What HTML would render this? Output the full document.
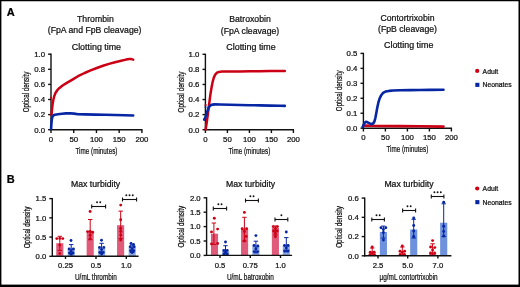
<!DOCTYPE html><html><head><meta charset="utf-8"><style>html,body{margin:0;padding:0;background:#fff;}svg{display:block;will-change:transform;}text{font-family:"Liberation Sans", sans-serif;stroke:#000;stroke-width:0.22px;paint-order:stroke;}</style></head><body>
<svg width="520" height="287" viewBox="0 0 520 287">
<rect x="0" y="0" width="520" height="287" fill="#fff"/>
<text x="6.7" y="15.6" font-size="11" text-anchor="start" font-weight="bold" fill="#000" >A</text>
<text x="6.7" y="182.5" font-size="11" text-anchor="start" font-weight="bold" fill="#000" >B</text>
<text x="95.4" y="22.4" font-size="8.7" text-anchor="middle" font-weight="normal" fill="#111" >Thrombin</text>
<text x="94.6" y="33.4" font-size="8.7" text-anchor="middle" font-weight="normal" fill="#111" >(FpA and FpB cleavage)</text>
<text x="96.4" y="49.6" font-size="8.9" text-anchor="middle" font-weight="normal" fill="#111" >Clotting time</text>
<line x1="51.0" y1="53.6" x2="51.0" y2="130.29999999999998" stroke="#111" stroke-width="1.4" />
<line x1="48.1" y1="129.7" x2="51.0" y2="129.7" stroke="#111" stroke-width="1.4" />
<text x="45.0" y="132.50799999999998" font-size="7.8" text-anchor="end" font-weight="normal" fill="#111" >0.0</text>
<line x1="48.1" y1="114.6" x2="51.0" y2="114.6" stroke="#111" stroke-width="1.4" />
<text x="45.0" y="117.40799999999999" font-size="7.8" text-anchor="end" font-weight="normal" fill="#111" >0.2</text>
<line x1="48.1" y1="99.5" x2="51.0" y2="99.5" stroke="#111" stroke-width="1.4" />
<text x="45.0" y="102.30799999999999" font-size="7.8" text-anchor="end" font-weight="normal" fill="#111" >0.4</text>
<line x1="48.1" y1="84.4" x2="51.0" y2="84.4" stroke="#111" stroke-width="1.4" />
<text x="45.0" y="87.208" font-size="7.8" text-anchor="end" font-weight="normal" fill="#111" >0.6</text>
<line x1="48.1" y1="69.3" x2="51.0" y2="69.3" stroke="#111" stroke-width="1.4" />
<text x="45.0" y="72.108" font-size="7.8" text-anchor="end" font-weight="normal" fill="#111" >0.8</text>
<line x1="48.1" y1="54.2" x2="51.0" y2="54.2" stroke="#111" stroke-width="1.4" />
<text x="45.0" y="57.008" font-size="7.8" text-anchor="end" font-weight="normal" fill="#111" >1.0</text>
<line x1="50.4" y1="129.7" x2="142.5" y2="129.7" stroke="#111" stroke-width="1.4" />
<line x1="51.0" y1="129.7" x2="51.0" y2="133.0" stroke="#111" stroke-width="1.4" />
<text x="51.0" y="141.89999999999998" font-size="7.8" text-anchor="middle" font-weight="normal" fill="#111" >0</text>
<line x1="73.725" y1="129.7" x2="73.725" y2="133.0" stroke="#111" stroke-width="1.4" />
<text x="73.725" y="141.89999999999998" font-size="7.8" text-anchor="middle" font-weight="normal" fill="#111" >50</text>
<line x1="96.45" y1="129.7" x2="96.45" y2="133.0" stroke="#111" stroke-width="1.4" />
<text x="96.45" y="141.89999999999998" font-size="7.8" text-anchor="middle" font-weight="normal" fill="#111" >100</text>
<line x1="119.17500000000001" y1="129.7" x2="119.17500000000001" y2="133.0" stroke="#111" stroke-width="1.4" />
<text x="119.17500000000001" y="141.89999999999998" font-size="7.8" text-anchor="middle" font-weight="normal" fill="#111" >150</text>
<line x1="141.9" y1="129.7" x2="141.9" y2="133.0" stroke="#111" stroke-width="1.4" />
<text x="141.9" y="141.89999999999998" font-size="7.8" text-anchor="middle" font-weight="normal" fill="#111" >200</text>
<text transform="translate(96.45,153.89999999999998) scale(0.705,1)" font-size="9.0" text-anchor="middle" fill="#111">Time (minutes)</text>
<text transform="translate(29.2,91.94999999999999) rotate(-90) scale(0.75,1)" font-size="8.3" text-anchor="middle" fill="#111">Optical density</text>
<text x="250.0" y="22.4" font-size="8.7" text-anchor="middle" font-weight="normal" fill="#111" >Batroxobin</text>
<text x="250.0" y="33.6" font-size="8.7" text-anchor="middle" font-weight="normal" fill="#111" >(FpA cleavage)</text>
<text x="251.0" y="49.6" font-size="8.9" text-anchor="middle" font-weight="normal" fill="#111" >Clotting time</text>
<line x1="205.4" y1="53.699999999999996" x2="205.4" y2="130.29999999999998" stroke="#111" stroke-width="1.4" />
<line x1="202.5" y1="129.7" x2="205.4" y2="129.7" stroke="#111" stroke-width="1.4" />
<text x="199.4" y="132.50799999999998" font-size="7.8" text-anchor="end" font-weight="normal" fill="#111" >0.0</text>
<line x1="202.5" y1="114.61999999999999" x2="205.4" y2="114.61999999999999" stroke="#111" stroke-width="1.4" />
<text x="199.4" y="117.428" font-size="7.8" text-anchor="end" font-weight="normal" fill="#111" >0.2</text>
<line x1="202.5" y1="99.53999999999999" x2="205.4" y2="99.53999999999999" stroke="#111" stroke-width="1.4" />
<text x="199.4" y="102.34799999999998" font-size="7.8" text-anchor="end" font-weight="normal" fill="#111" >0.4</text>
<line x1="202.5" y1="84.46" x2="205.4" y2="84.46" stroke="#111" stroke-width="1.4" />
<text x="199.4" y="87.268" font-size="7.8" text-anchor="end" font-weight="normal" fill="#111" >0.6</text>
<line x1="202.5" y1="69.38" x2="205.4" y2="69.38" stroke="#111" stroke-width="1.4" />
<text x="199.4" y="72.18799999999999" font-size="7.8" text-anchor="end" font-weight="normal" fill="#111" >0.8</text>
<line x1="202.5" y1="54.3" x2="205.4" y2="54.3" stroke="#111" stroke-width="1.4" />
<text x="199.4" y="57.108" font-size="7.8" text-anchor="end" font-weight="normal" fill="#111" >1.0</text>
<line x1="204.8" y1="129.7" x2="294.0" y2="129.7" stroke="#111" stroke-width="1.4" />
<line x1="205.4" y1="129.7" x2="205.4" y2="133.0" stroke="#111" stroke-width="1.4" />
<text x="205.4" y="141.89999999999998" font-size="7.8" text-anchor="middle" font-weight="normal" fill="#111" >0</text>
<line x1="227.4" y1="129.7" x2="227.4" y2="133.0" stroke="#111" stroke-width="1.4" />
<text x="227.4" y="141.89999999999998" font-size="7.8" text-anchor="middle" font-weight="normal" fill="#111" >50</text>
<line x1="249.39999999999998" y1="129.7" x2="249.39999999999998" y2="133.0" stroke="#111" stroke-width="1.4" />
<text x="249.39999999999998" y="141.89999999999998" font-size="7.8" text-anchor="middle" font-weight="normal" fill="#111" >100</text>
<line x1="271.4" y1="129.7" x2="271.4" y2="133.0" stroke="#111" stroke-width="1.4" />
<text x="271.4" y="141.89999999999998" font-size="7.8" text-anchor="middle" font-weight="normal" fill="#111" >150</text>
<line x1="293.4" y1="129.7" x2="293.4" y2="133.0" stroke="#111" stroke-width="1.4" />
<text x="293.4" y="141.89999999999998" font-size="7.8" text-anchor="middle" font-weight="normal" fill="#111" >200</text>
<text transform="translate(249.39999999999998,153.89999999999998) scale(0.705,1)" font-size="9.0" text-anchor="middle" fill="#111">Time (minutes)</text>
<text transform="translate(183.6,92.0) rotate(-90) scale(0.75,1)" font-size="8.3" text-anchor="middle" fill="#111">Optical density</text>
<text x="407.5" y="21.0" font-size="8.7" text-anchor="middle" font-weight="normal" fill="#111" >Contortrixobin</text>
<text x="407.5" y="31.8" font-size="8.7" text-anchor="middle" font-weight="normal" fill="#111" >(FpB cleavage)</text>
<text x="408.7" y="48.0" font-size="8.9" text-anchor="middle" font-weight="normal" fill="#111" >Clotting time</text>
<line x1="363.4" y1="52.8" x2="363.4" y2="128.79999999999998" stroke="#111" stroke-width="1.4" />
<line x1="360.5" y1="128.2" x2="363.4" y2="128.2" stroke="#111" stroke-width="1.4" />
<text x="357.4" y="131.00799999999998" font-size="7.8" text-anchor="end" font-weight="normal" fill="#111" >0.0</text>
<line x1="360.5" y1="113.24" x2="363.4" y2="113.24" stroke="#111" stroke-width="1.4" />
<text x="357.4" y="116.048" font-size="7.8" text-anchor="end" font-weight="normal" fill="#111" >0.1</text>
<line x1="360.5" y1="98.28" x2="363.4" y2="98.28" stroke="#111" stroke-width="1.4" />
<text x="357.4" y="101.088" font-size="7.8" text-anchor="end" font-weight="normal" fill="#111" >0.2</text>
<line x1="360.5" y1="83.32" x2="363.4" y2="83.32" stroke="#111" stroke-width="1.4" />
<text x="357.4" y="86.12799999999999" font-size="7.8" text-anchor="end" font-weight="normal" fill="#111" >0.3</text>
<line x1="360.5" y1="68.36" x2="363.4" y2="68.36" stroke="#111" stroke-width="1.4" />
<text x="357.4" y="71.168" font-size="7.8" text-anchor="end" font-weight="normal" fill="#111" >0.4</text>
<line x1="360.5" y1="53.400000000000006" x2="363.4" y2="53.400000000000006" stroke="#111" stroke-width="1.4" />
<text x="357.4" y="56.208000000000006" font-size="7.8" text-anchor="end" font-weight="normal" fill="#111" >0.5</text>
<line x1="362.79999999999995" y1="128.2" x2="452.0" y2="128.2" stroke="#111" stroke-width="1.4" />
<line x1="363.4" y1="128.2" x2="363.4" y2="131.5" stroke="#111" stroke-width="1.4" />
<text x="363.4" y="140.39999999999998" font-size="7.8" text-anchor="middle" font-weight="normal" fill="#111" >0</text>
<line x1="385.4" y1="128.2" x2="385.4" y2="131.5" stroke="#111" stroke-width="1.4" />
<text x="385.4" y="140.39999999999998" font-size="7.8" text-anchor="middle" font-weight="normal" fill="#111" >50</text>
<line x1="407.4" y1="128.2" x2="407.4" y2="131.5" stroke="#111" stroke-width="1.4" />
<text x="407.4" y="140.39999999999998" font-size="7.8" text-anchor="middle" font-weight="normal" fill="#111" >100</text>
<line x1="429.4" y1="128.2" x2="429.4" y2="131.5" stroke="#111" stroke-width="1.4" />
<text x="429.4" y="140.39999999999998" font-size="7.8" text-anchor="middle" font-weight="normal" fill="#111" >150</text>
<line x1="451.4" y1="128.2" x2="451.4" y2="131.5" stroke="#111" stroke-width="1.4" />
<text x="451.4" y="140.39999999999998" font-size="7.8" text-anchor="middle" font-weight="normal" fill="#111" >200</text>
<text transform="translate(407.4,152.39999999999998) scale(0.705,1)" font-size="9.0" text-anchor="middle" fill="#111">Time (minutes)</text>
<text transform="translate(341.59999999999997,90.8) rotate(-90) scale(0.75,1)" font-size="8.3" text-anchor="middle" fill="#111">Optical density</text>
<polyline points="51.50,115.20 51.90,110.50 52.50,105.00 53.30,100.00 54.30,96.00 55.60,92.80 57.30,90.20 59.50,87.90 62.60,85.50 66.00,83.40 72.40,79.60 78.00,76.20 84.60,73.00 90.00,70.60 96.80,68.00 103.00,65.80 109.00,63.90 115.00,62.20 121.20,60.70 126.00,59.60 129.50,59.00 131.50,59.10 133.20,59.60" fill="none" stroke="#cc0014" stroke-width="2.5" stroke-linejoin="round" stroke-linecap="round"/>
<line x1="50.2" y1="97.6" x2="51.8" y2="97.6" stroke="#cc0014" stroke-width="1.6" />
<polyline points="51.10,128.80 51.40,124.00 51.80,119.50 52.50,116.50 53.50,115.30 55.00,114.80 58.00,114.30 62.00,113.80 66.00,113.40 70.00,113.30 74.00,113.60 78.00,114.20 85.00,114.40 95.00,114.60 105.00,114.80 115.00,115.00 125.00,115.20 133.20,115.50" fill="none" stroke="#0626a4" stroke-width="2.6" stroke-linejoin="round" stroke-linecap="round"/>
<polyline points="205.60,129.60 206.80,122.00 208.00,113.00 209.30,103.00 210.40,94.50 211.50,87.70 212.60,82.00 213.80,77.60 215.20,74.60 217.00,72.70 219.00,71.90 222.00,71.60 230.00,71.50 240.00,71.40 250.00,71.30 260.00,71.20 270.00,71.00 280.00,70.90 284.80,71.00" fill="none" stroke="#cc0014" stroke-width="2.5" stroke-linejoin="round" stroke-linecap="round"/>
<line x1="204.6" y1="105.0" x2="206.6" y2="105.0" stroke="#cc0014" stroke-width="1.6" />
<polyline points="204.20,119.60 205.30,117.60 206.30,115.00 207.20,111.80 208.20,108.60 209.40,106.40 210.80,105.20 212.50,104.60 215.00,104.40 220.00,104.50 230.00,104.80 240.00,105.00 250.00,105.20 260.00,105.40 270.00,105.60 280.00,105.80 284.80,105.90" fill="none" stroke="#0626a4" stroke-width="2.6" stroke-linejoin="round" stroke-linecap="round"/>
<line x1="204.6" y1="107.2" x2="206.4" y2="107.2" stroke="#0626a4" stroke-width="1.6" />
<polyline points="363.40,125.80 366.00,125.60 370.00,125.80 380.00,126.00 400.00,126.10 420.00,126.30 443.50,126.60" fill="none" stroke="#cc0014" stroke-width="2.6" stroke-linejoin="round" stroke-linecap="round"/>
<polyline points="362.60,127.00 363.60,124.80 364.80,122.60 366.00,121.80 367.60,122.30 369.60,123.40 371.60,124.20 373.20,123.50 374.40,121.50 375.40,117.80 376.30,113.00 377.30,107.50 378.40,102.40 379.50,98.80 381.00,95.60 383.00,92.90 385.50,91.60 389.00,90.90 393.00,90.50 400.00,90.30 410.00,90.10 420.00,90.00 430.00,89.90 443.50,89.80" fill="none" stroke="#0626a4" stroke-width="2.6" stroke-linejoin="round" stroke-linecap="round"/>
<circle cx="477.2" cy="70.9" r="2.1" fill="#cc0014"/>
<rect x="475.3" y="82.8" width="4.1" height="4.1" fill="#0626a4"/>
<text x="482.6" y="73.6" font-size="6.8" text-anchor="start" font-weight="normal" fill="#111" >Adult</text>
<text x="482.6" y="87.2" font-size="6.8" text-anchor="start" font-weight="normal" fill="#111" >Neonates</text>
<rect x="56.25" y="243.20" width="7.1" height="13.10" fill="#e05a7a" fill-opacity="1.0"/>
<line x1="59.8" y1="236.3" x2="59.8" y2="250.5" stroke="#cc0014" stroke-width="1.0" />
<line x1="57.599999999999994" y1="236.3" x2="62.0" y2="236.3" stroke="#cc0014" stroke-width="1.0" />
<line x1="57.599999999999994" y1="250.5" x2="62.0" y2="250.5" stroke="#cc0014" stroke-width="1.0" />
<circle cx="56.8" cy="238.6" r="1.45" fill="#cc0014"/>
<circle cx="59.8" cy="238.4" r="1.45" fill="#cc0014"/>
<circle cx="62.8" cy="238.6" r="1.45" fill="#cc0014"/>
<circle cx="59.8" cy="245.1" r="1.45" fill="#cc0014"/>
<circle cx="59.8" cy="253.4" r="1.45" fill="#cc0014"/>
<rect x="67.65" y="248.50" width="7.1" height="7.80" fill="#6d91dc" fill-opacity="0.8"/>
<line x1="71.2" y1="244.6" x2="71.2" y2="253.5" stroke="#0626a4" stroke-width="1.0" />
<line x1="69.0" y1="244.6" x2="73.4" y2="244.6" stroke="#0626a4" stroke-width="1.0" />
<line x1="69.0" y1="253.5" x2="73.4" y2="253.5" stroke="#0626a4" stroke-width="1.0" />
<circle cx="71.0" cy="240.5" r="1.45" fill="#0626a4"/>
<circle cx="69.2" cy="249.0" r="1.45" fill="#0626a4"/>
<circle cx="73.4" cy="249.0" r="1.45" fill="#0626a4"/>
<circle cx="71.2" cy="251.0" r="1.45" fill="#0626a4"/>
<circle cx="69.5" cy="253.0" r="1.45" fill="#0626a4"/>
<circle cx="73.0" cy="253.0" r="1.45" fill="#0626a4"/>
<circle cx="71.2" cy="254.2" r="1.45" fill="#0626a4"/>
<rect x="86.65" y="231.20" width="7.1" height="25.10" fill="#e05a7a" fill-opacity="1.0"/>
<line x1="90.2" y1="219.5" x2="90.2" y2="239.7" stroke="#cc0014" stroke-width="1.0" />
<line x1="88.0" y1="219.5" x2="92.4" y2="219.5" stroke="#cc0014" stroke-width="1.0" />
<line x1="88.0" y1="239.7" x2="92.4" y2="239.7" stroke="#cc0014" stroke-width="1.0" />
<circle cx="90.1" cy="211.5" r="1.45" fill="#cc0014"/>
<circle cx="87.6" cy="231.6" r="1.45" fill="#cc0014"/>
<circle cx="90.2" cy="231.4" r="1.45" fill="#cc0014"/>
<circle cx="92.6" cy="232.2" r="1.45" fill="#cc0014"/>
<circle cx="90.2" cy="235.3" r="1.45" fill="#cc0014"/>
<circle cx="90.2" cy="238.7" r="1.45" fill="#cc0014"/>
<rect x="98.15" y="248.00" width="7.1" height="8.30" fill="#6d91dc" fill-opacity="0.8"/>
<line x1="101.6" y1="243.3" x2="101.6" y2="253.0" stroke="#0626a4" stroke-width="1.0" />
<line x1="99.39999999999999" y1="243.3" x2="103.8" y2="243.3" stroke="#0626a4" stroke-width="1.0" />
<line x1="99.39999999999999" y1="253.0" x2="103.8" y2="253.0" stroke="#0626a4" stroke-width="1.0" />
<circle cx="101.5" cy="240.3" r="1.45" fill="#0626a4"/>
<circle cx="99.5" cy="247.4" r="1.45" fill="#0626a4"/>
<circle cx="103.8" cy="247.4" r="1.45" fill="#0626a4"/>
<circle cx="101.6" cy="249.6" r="1.45" fill="#0626a4"/>
<circle cx="99.8" cy="252.4" r="1.45" fill="#0626a4"/>
<circle cx="103.2" cy="252.4" r="1.45" fill="#0626a4"/>
<circle cx="101.6" cy="254.0" r="1.45" fill="#0626a4"/>
<rect x="117.05" y="225.20" width="7.1" height="31.10" fill="#e05a7a" fill-opacity="1.0"/>
<line x1="120.7" y1="211.1" x2="120.7" y2="238.6" stroke="#cc0014" stroke-width="1.0" />
<line x1="118.5" y1="211.1" x2="122.9" y2="211.1" stroke="#cc0014" stroke-width="1.0" />
<line x1="118.5" y1="238.6" x2="122.9" y2="238.6" stroke="#cc0014" stroke-width="1.0" />
<circle cx="120.7" cy="205.1" r="1.45" fill="#cc0014"/>
<circle cx="120.7" cy="219.7" r="1.45" fill="#cc0014"/>
<circle cx="120.7" cy="228.4" r="1.45" fill="#cc0014"/>
<circle cx="120.7" cy="231.5" r="1.45" fill="#cc0014"/>
<circle cx="120.7" cy="235.1" r="1.45" fill="#cc0014"/>
<circle cx="120.7" cy="240.1" r="1.45" fill="#cc0014"/>
<rect x="128.65" y="247.20" width="7.1" height="9.10" fill="#6d91dc" fill-opacity="0.8"/>
<line x1="132.2" y1="245.0" x2="132.2" y2="252.5" stroke="#0626a4" stroke-width="1.0" />
<line x1="130.0" y1="245.0" x2="134.39999999999998" y2="245.0" stroke="#0626a4" stroke-width="1.0" />
<line x1="130.0" y1="252.5" x2="134.39999999999998" y2="252.5" stroke="#0626a4" stroke-width="1.0" />
<circle cx="131.0" cy="243.4" r="1.45" fill="#0626a4"/>
<circle cx="133.5" cy="244.4" r="1.45" fill="#0626a4"/>
<circle cx="130.2" cy="246.8" r="1.45" fill="#0626a4"/>
<circle cx="134.2" cy="246.8" r="1.45" fill="#0626a4"/>
<circle cx="132.2" cy="248.6" r="1.45" fill="#0626a4"/>
<circle cx="130.6" cy="250.8" r="1.45" fill="#0626a4"/>
<circle cx="133.8" cy="250.8" r="1.45" fill="#0626a4"/>
<circle cx="132.2" cy="252.6" r="1.45" fill="#0626a4"/>
<line x1="91.7" y1="206.5" x2="105.6" y2="206.5" stroke="#111" stroke-width="1.1" />
<line x1="91.7" y1="204.5" x2="91.7" y2="208.5" stroke="#111" stroke-width="1.1" />
<line x1="105.6" y1="204.5" x2="105.6" y2="208.5" stroke="#111" stroke-width="1.1" />
<circle cx="97.05" cy="202.30" r="0.95" fill="#111"/>
<circle cx="100.25" cy="202.30" r="0.95" fill="#111"/>
<line x1="122.5" y1="199.5" x2="136.6" y2="199.5" stroke="#111" stroke-width="1.1" />
<line x1="122.5" y1="197.5" x2="122.5" y2="201.5" stroke="#111" stroke-width="1.1" />
<line x1="136.6" y1="197.5" x2="136.6" y2="201.5" stroke="#111" stroke-width="1.1" />
<circle cx="126.35" cy="195.30" r="0.95" fill="#111"/>
<circle cx="129.55" cy="195.30" r="0.95" fill="#111"/>
<circle cx="132.75" cy="195.30" r="0.95" fill="#111"/>
<rect x="210.95" y="233.70" width="7.1" height="21.70" fill="#e05a7a" fill-opacity="1.0"/>
<line x1="213.9" y1="223.0" x2="213.9" y2="244.4" stroke="#cc0014" stroke-width="1.0" />
<line x1="211.70000000000002" y1="223.0" x2="216.1" y2="223.0" stroke="#cc0014" stroke-width="1.0" />
<line x1="211.70000000000002" y1="244.4" x2="216.1" y2="244.4" stroke="#cc0014" stroke-width="1.0" />
<circle cx="214.3" cy="218.3" r="1.45" fill="#cc0014"/>
<circle cx="217.6" cy="229.1" r="1.45" fill="#cc0014"/>
<circle cx="211.5" cy="231.9" r="1.45" fill="#cc0014"/>
<circle cx="211.5" cy="243.9" r="1.45" fill="#cc0014"/>
<circle cx="217.6" cy="243.5" r="1.45" fill="#cc0014"/>
<rect x="222.05" y="251.30" width="7.1" height="4.10" fill="#6d91dc" fill-opacity="0.8"/>
<line x1="225.5" y1="245.7" x2="225.5" y2="254.0" stroke="#0626a4" stroke-width="1.0" />
<line x1="223.3" y1="245.7" x2="227.7" y2="245.7" stroke="#0626a4" stroke-width="1.0" />
<line x1="223.3" y1="254.0" x2="227.7" y2="254.0" stroke="#0626a4" stroke-width="1.0" />
<circle cx="225.5" cy="242.0" r="1.45" fill="#0626a4"/>
<circle cx="223.8" cy="250.5" r="1.45" fill="#0626a4"/>
<circle cx="227.2" cy="250.5" r="1.45" fill="#0626a4"/>
<circle cx="225.5" cy="252.2" r="1.45" fill="#0626a4"/>
<circle cx="224.0" cy="254.0" r="1.45" fill="#0626a4"/>
<circle cx="227.2" cy="254.0" r="1.45" fill="#0626a4"/>
<line x1="213.3" y1="208.5" x2="226.6" y2="208.5" stroke="#111" stroke-width="1.1" />
<line x1="213.3" y1="206.5" x2="213.3" y2="210.5" stroke="#111" stroke-width="1.1" />
<line x1="226.6" y1="206.5" x2="226.6" y2="210.5" stroke="#111" stroke-width="1.1" />
<circle cx="218.35" cy="204.30" r="0.95" fill="#111"/>
<circle cx="221.55" cy="204.30" r="0.95" fill="#111"/>
<rect x="241.05" y="228.80" width="7.1" height="26.60" fill="#e05a7a" fill-opacity="1.0"/>
<line x1="244.4" y1="217.3" x2="244.4" y2="241.0" stroke="#cc0014" stroke-width="1.0" />
<line x1="242.20000000000002" y1="217.3" x2="246.6" y2="217.3" stroke="#cc0014" stroke-width="1.0" />
<line x1="242.20000000000002" y1="241.0" x2="246.6" y2="241.0" stroke="#cc0014" stroke-width="1.0" />
<circle cx="244.4" cy="212.4" r="1.45" fill="#cc0014"/>
<circle cx="242.2" cy="228.8" r="1.45" fill="#cc0014"/>
<circle cx="246.6" cy="228.8" r="1.45" fill="#cc0014"/>
<circle cx="244.4" cy="231.5" r="1.45" fill="#cc0014"/>
<circle cx="246.2" cy="236.4" r="1.45" fill="#cc0014"/>
<circle cx="244.4" cy="241.0" r="1.45" fill="#cc0014"/>
<rect x="252.35" y="246.00" width="7.1" height="9.40" fill="#6d91dc" fill-opacity="0.8"/>
<line x1="255.9" y1="241.2" x2="255.9" y2="252.8" stroke="#0626a4" stroke-width="1.0" />
<line x1="253.70000000000002" y1="241.2" x2="258.1" y2="241.2" stroke="#0626a4" stroke-width="1.0" />
<line x1="253.70000000000002" y1="252.8" x2="258.1" y2="252.8" stroke="#0626a4" stroke-width="1.0" />
<circle cx="255.9" cy="235.6" r="1.45" fill="#0626a4"/>
<circle cx="254.0" cy="245.5" r="1.45" fill="#0626a4"/>
<circle cx="257.8" cy="246.0" r="1.45" fill="#0626a4"/>
<circle cx="255.9" cy="248.8" r="1.45" fill="#0626a4"/>
<circle cx="254.2" cy="251.6" r="1.45" fill="#0626a4"/>
<circle cx="257.6" cy="251.6" r="1.45" fill="#0626a4"/>
<line x1="245.5" y1="200.5" x2="258.4" y2="200.5" stroke="#111" stroke-width="1.1" />
<line x1="245.5" y1="198.5" x2="245.5" y2="202.5" stroke="#111" stroke-width="1.1" />
<line x1="258.4" y1="198.5" x2="258.4" y2="202.5" stroke="#111" stroke-width="1.1" />
<circle cx="250.35" cy="196.30" r="0.95" fill="#111"/>
<circle cx="253.55" cy="196.30" r="0.95" fill="#111"/>
<rect x="271.85" y="227.80" width="7.1" height="27.60" fill="#e05a7a" fill-opacity="1.0"/>
<line x1="275.4" y1="226.0" x2="275.4" y2="235.0" stroke="#cc0014" stroke-width="1.0" />
<line x1="273.2" y1="226.0" x2="277.59999999999997" y2="226.0" stroke="#cc0014" stroke-width="1.0" />
<line x1="273.2" y1="235.0" x2="277.59999999999997" y2="235.0" stroke="#cc0014" stroke-width="1.0" />
<circle cx="273.2" cy="226.6" r="1.45" fill="#cc0014"/>
<circle cx="277.4" cy="226.6" r="1.45" fill="#cc0014"/>
<circle cx="275.4" cy="228.5" r="1.45" fill="#cc0014"/>
<circle cx="273.6" cy="231.0" r="1.45" fill="#cc0014"/>
<circle cx="277.2" cy="231.0" r="1.45" fill="#cc0014"/>
<circle cx="275.4" cy="233.5" r="1.45" fill="#cc0014"/>
<circle cx="275.4" cy="236.8" r="1.45" fill="#cc0014"/>
<rect x="282.75" y="245.00" width="7.1" height="10.40" fill="#6d91dc" fill-opacity="0.8"/>
<line x1="286.3" y1="237.6" x2="286.3" y2="251.8" stroke="#0626a4" stroke-width="1.0" />
<line x1="284.1" y1="237.6" x2="288.5" y2="237.6" stroke="#0626a4" stroke-width="1.0" />
<line x1="284.1" y1="251.8" x2="288.5" y2="251.8" stroke="#0626a4" stroke-width="1.0" />
<circle cx="286.3" cy="232.0" r="1.45" fill="#0626a4"/>
<circle cx="284.5" cy="245.5" r="1.45" fill="#0626a4"/>
<circle cx="288.1" cy="245.5" r="1.45" fill="#0626a4"/>
<circle cx="286.3" cy="248.0" r="1.45" fill="#0626a4"/>
<circle cx="284.6" cy="251.0" r="1.45" fill="#0626a4"/>
<circle cx="288.0" cy="251.0" r="1.45" fill="#0626a4"/>
<line x1="275.0" y1="219.5" x2="287.8" y2="219.5" stroke="#111" stroke-width="1.1" />
<line x1="275.0" y1="217.5" x2="275.0" y2="221.5" stroke="#111" stroke-width="1.1" />
<line x1="287.8" y1="217.5" x2="287.8" y2="221.5" stroke="#111" stroke-width="1.1" />
<circle cx="281.40" cy="215.30" r="0.95" fill="#111"/>
<rect x="368.65" y="254.50" width="7.1" height="1.30" fill="#e05a7a" fill-opacity="1.0"/>
<line x1="372.2" y1="248.0" x2="372.2" y2="255.0" stroke="#cc0014" stroke-width="1.0" />
<line x1="370.0" y1="248.0" x2="374.4" y2="248.0" stroke="#cc0014" stroke-width="1.0" />
<line x1="370.0" y1="255.0" x2="374.4" y2="255.0" stroke="#cc0014" stroke-width="1.0" />
<circle cx="372.2" cy="247.0" r="1.45" fill="#cc0014"/>
<circle cx="370.2" cy="252.2" r="1.45" fill="#cc0014"/>
<circle cx="374.2" cy="252.2" r="1.45" fill="#cc0014"/>
<circle cx="372.2" cy="253.0" r="1.45" fill="#cc0014"/>
<circle cx="370.0" cy="254.6" r="1.45" fill="#cc0014"/>
<circle cx="374.4" cy="254.6" r="1.45" fill="#cc0014"/>
<rect x="379.85" y="232.00" width="7.1" height="23.80" fill="#6d91dc" fill-opacity="1.0"/>
<line x1="383.4" y1="226.1" x2="383.4" y2="238.0" stroke="#0626a4" stroke-width="1.0" />
<line x1="381.2" y1="226.1" x2="385.59999999999997" y2="226.1" stroke="#0626a4" stroke-width="1.0" />
<line x1="381.2" y1="238.0" x2="385.59999999999997" y2="238.0" stroke="#0626a4" stroke-width="1.0" />
<circle cx="381.0" cy="227.8" r="1.45" fill="#0626a4"/>
<circle cx="385.8" cy="227.8" r="1.45" fill="#0626a4"/>
<circle cx="383.4" cy="229.5" r="1.45" fill="#0626a4"/>
<circle cx="383.4" cy="232.5" r="1.45" fill="#0626a4"/>
<circle cx="383.4" cy="240.0" r="1.45" fill="#0626a4"/>
<line x1="371.8" y1="219.5" x2="384.4" y2="219.5" stroke="#111" stroke-width="1.1" />
<line x1="371.8" y1="217.5" x2="371.8" y2="221.5" stroke="#111" stroke-width="1.1" />
<line x1="384.4" y1="217.5" x2="384.4" y2="221.5" stroke="#111" stroke-width="1.1" />
<circle cx="376.50" cy="215.30" r="0.95" fill="#111"/>
<circle cx="379.70" cy="215.30" r="0.95" fill="#111"/>
<rect x="398.75" y="254.30" width="7.1" height="1.50" fill="#e05a7a" fill-opacity="1.0"/>
<line x1="402.3" y1="247.0" x2="402.3" y2="255.0" stroke="#cc0014" stroke-width="1.0" />
<line x1="400.1" y1="247.0" x2="404.5" y2="247.0" stroke="#cc0014" stroke-width="1.0" />
<line x1="400.1" y1="255.0" x2="404.5" y2="255.0" stroke="#cc0014" stroke-width="1.0" />
<circle cx="402.3" cy="246.0" r="1.45" fill="#cc0014"/>
<circle cx="400.0" cy="251.2" r="1.45" fill="#cc0014"/>
<circle cx="404.6" cy="251.2" r="1.45" fill="#cc0014"/>
<circle cx="402.3" cy="252.4" r="1.45" fill="#cc0014"/>
<circle cx="400.2" cy="254.4" r="1.45" fill="#cc0014"/>
<circle cx="404.4" cy="254.4" r="1.45" fill="#cc0014"/>
<rect x="410.15" y="229.50" width="7.1" height="26.30" fill="#6d91dc" fill-opacity="1.0"/>
<line x1="413.7" y1="219.3" x2="413.7" y2="238.0" stroke="#0626a4" stroke-width="1.0" />
<line x1="411.5" y1="219.3" x2="415.9" y2="219.3" stroke="#0626a4" stroke-width="1.0" />
<line x1="411.5" y1="238.0" x2="415.9" y2="238.0" stroke="#0626a4" stroke-width="1.0" />
<circle cx="413.7" cy="218.0" r="1.45" fill="#0626a4"/>
<circle cx="413.7" cy="225.5" r="1.45" fill="#0626a4"/>
<circle cx="413.7" cy="231.0" r="1.45" fill="#0626a4"/>
<circle cx="413.7" cy="236.5" r="1.45" fill="#0626a4"/>
<line x1="402.6" y1="210.5" x2="415.6" y2="210.5" stroke="#111" stroke-width="1.1" />
<line x1="402.6" y1="208.5" x2="402.6" y2="212.5" stroke="#111" stroke-width="1.1" />
<line x1="415.6" y1="208.5" x2="415.6" y2="212.5" stroke="#111" stroke-width="1.1" />
<circle cx="407.50" cy="206.30" r="0.95" fill="#111"/>
<circle cx="410.70" cy="206.30" r="0.95" fill="#111"/>
<rect x="429.05" y="253.00" width="7.1" height="2.80" fill="#e05a7a" fill-opacity="1.0"/>
<line x1="432.6" y1="243.8" x2="432.6" y2="255.0" stroke="#cc0014" stroke-width="1.0" />
<line x1="430.40000000000003" y1="243.8" x2="434.8" y2="243.8" stroke="#cc0014" stroke-width="1.0" />
<line x1="430.40000000000003" y1="255.0" x2="434.8" y2="255.0" stroke="#cc0014" stroke-width="1.0" />
<circle cx="432.6" cy="240.6" r="1.45" fill="#cc0014"/>
<circle cx="430.6" cy="247.0" r="1.45" fill="#cc0014"/>
<circle cx="434.8" cy="247.6" r="1.45" fill="#cc0014"/>
<circle cx="432.6" cy="250.0" r="1.45" fill="#cc0014"/>
<circle cx="430.6" cy="253.0" r="1.45" fill="#cc0014"/>
<circle cx="434.6" cy="253.0" r="1.45" fill="#cc0014"/>
<rect x="440.15" y="222.70" width="7.1" height="33.10" fill="#6d91dc" fill-opacity="1.0"/>
<line x1="443.7" y1="203.8" x2="443.7" y2="236.6" stroke="#0626a4" stroke-width="1.0" />
<line x1="441.5" y1="203.8" x2="445.9" y2="203.8" stroke="#0626a4" stroke-width="1.0" />
<line x1="441.5" y1="236.6" x2="445.9" y2="236.6" stroke="#0626a4" stroke-width="1.0" />
<circle cx="443.7" cy="202.2" r="1.45" fill="#0626a4"/>
<circle cx="443.7" cy="226.2" r="1.45" fill="#0626a4"/>
<circle cx="443.7" cy="231.4" r="1.45" fill="#0626a4"/>
<circle cx="443.7" cy="236.0" r="1.45" fill="#0626a4"/>
<line x1="431.3" y1="196.5" x2="443.9" y2="196.5" stroke="#111" stroke-width="1.1" />
<line x1="431.3" y1="194.5" x2="431.3" y2="198.5" stroke="#111" stroke-width="1.1" />
<line x1="443.9" y1="194.5" x2="443.9" y2="198.5" stroke="#111" stroke-width="1.1" />
<circle cx="434.40" cy="192.30" r="0.95" fill="#111"/>
<circle cx="437.60" cy="192.30" r="0.95" fill="#111"/>
<circle cx="440.80" cy="192.30" r="0.95" fill="#111"/>
<text x="95.6" y="187.0" font-size="8.7" text-anchor="middle" font-weight="normal" fill="#111" >Max turbidity</text>
<line x1="52.3" y1="198.0" x2="52.3" y2="256.90000000000003" stroke="#111" stroke-width="1.4" />
<line x1="49.3" y1="256.3" x2="52.3" y2="256.3" stroke="#111" stroke-width="1.4" />
<text x="46.3" y="259.072" font-size="7.7" text-anchor="end" font-weight="normal" fill="#111" >0.0</text>
<line x1="49.3" y1="237.06666666666666" x2="52.3" y2="237.06666666666666" stroke="#111" stroke-width="1.4" />
<text x="46.3" y="239.83866666666665" font-size="7.7" text-anchor="end" font-weight="normal" fill="#111" >0.5</text>
<line x1="49.3" y1="217.83333333333334" x2="52.3" y2="217.83333333333334" stroke="#111" stroke-width="1.4" />
<text x="46.3" y="220.60533333333333" font-size="7.7" text-anchor="end" font-weight="normal" fill="#111" >1.0</text>
<line x1="49.3" y1="198.6" x2="52.3" y2="198.6" stroke="#111" stroke-width="1.4" />
<text x="46.3" y="201.37199999999999" font-size="7.7" text-anchor="end" font-weight="normal" fill="#111" >1.5</text>
<line x1="51.699999999999996" y1="256.3" x2="138.6" y2="256.3" stroke="#111" stroke-width="1.4" />
<line x1="65.5" y1="256.3" x2="65.5" y2="258.90000000000003" stroke="#111" stroke-width="1.4" />
<text x="65.5" y="267.6" font-size="7.7" text-anchor="middle" font-weight="normal" fill="#111" >0.25</text>
<line x1="96.0" y1="256.3" x2="96.0" y2="258.90000000000003" stroke="#111" stroke-width="1.4" />
<text x="96.0" y="267.6" font-size="7.7" text-anchor="middle" font-weight="normal" fill="#111" >0.5</text>
<line x1="126.3" y1="256.3" x2="126.3" y2="258.90000000000003" stroke="#111" stroke-width="1.4" />
<text x="126.3" y="267.6" font-size="7.7" text-anchor="middle" font-weight="normal" fill="#111" >1.0</text>
<text transform="translate(95.9,280.1) scale(0.74,1)" font-size="8.7" text-anchor="middle" fill="#111">U/mL thrombin</text>
<text transform="translate(29.499999999999996,227.45) rotate(-90) scale(0.77,1)" font-size="8.3" text-anchor="middle" fill="#111">Optical density</text>
<text x="250.6" y="187.0" font-size="8.7" text-anchor="middle" font-weight="normal" fill="#111" >Max turbidity</text>
<line x1="206.6" y1="197.20000000000002" x2="206.6" y2="256.0" stroke="#111" stroke-width="1.4" />
<line x1="203.6" y1="255.4" x2="206.6" y2="255.4" stroke="#111" stroke-width="1.4" />
<text x="200.6" y="258.172" font-size="7.7" text-anchor="end" font-weight="normal" fill="#111" >0.0</text>
<line x1="203.6" y1="241.0" x2="206.6" y2="241.0" stroke="#111" stroke-width="1.4" />
<text x="200.6" y="243.772" font-size="7.7" text-anchor="end" font-weight="normal" fill="#111" >0.5</text>
<line x1="203.6" y1="226.60000000000002" x2="206.6" y2="226.60000000000002" stroke="#111" stroke-width="1.4" />
<text x="200.6" y="229.372" font-size="7.7" text-anchor="end" font-weight="normal" fill="#111" >1.0</text>
<line x1="203.6" y1="212.20000000000002" x2="206.6" y2="212.20000000000002" stroke="#111" stroke-width="1.4" />
<text x="200.6" y="214.972" font-size="7.7" text-anchor="end" font-weight="normal" fill="#111" >1.5</text>
<line x1="203.6" y1="197.8" x2="206.6" y2="197.8" stroke="#111" stroke-width="1.4" />
<text x="200.6" y="200.572" font-size="7.7" text-anchor="end" font-weight="normal" fill="#111" >2.0</text>
<line x1="206.0" y1="255.4" x2="292.1" y2="255.4" stroke="#111" stroke-width="1.4" />
<line x1="220.0" y1="255.4" x2="220.0" y2="258.0" stroke="#111" stroke-width="1.4" />
<text x="220.0" y="267.6" font-size="7.7" text-anchor="middle" font-weight="normal" fill="#111" >0.5</text>
<line x1="250.3" y1="255.4" x2="250.3" y2="258.0" stroke="#111" stroke-width="1.4" />
<text x="250.3" y="267.6" font-size="7.7" text-anchor="middle" font-weight="normal" fill="#111" >0.75</text>
<line x1="280.5" y1="255.4" x2="280.5" y2="258.0" stroke="#111" stroke-width="1.4" />
<text x="280.5" y="267.6" font-size="7.7" text-anchor="middle" font-weight="normal" fill="#111" >1.0</text>
<text transform="translate(250.4,280.1) scale(0.74,1)" font-size="8.7" text-anchor="middle" fill="#111">U/mL batroxobin</text>
<text transform="translate(183.79999999999998,226.60000000000002) rotate(-90) scale(0.77,1)" font-size="8.3" text-anchor="middle" fill="#111">Optical density</text>
<text x="409.0" y="187.0" font-size="8.7" text-anchor="middle" font-weight="normal" fill="#111" >Max turbidity</text>
<line x1="364.7" y1="197.5" x2="364.7" y2="256.40000000000003" stroke="#111" stroke-width="1.4" />
<line x1="361.7" y1="255.8" x2="364.7" y2="255.8" stroke="#111" stroke-width="1.4" />
<text x="358.7" y="258.572" font-size="7.7" text-anchor="end" font-weight="normal" fill="#111" >0.0</text>
<line x1="361.7" y1="236.56666666666666" x2="364.7" y2="236.56666666666666" stroke="#111" stroke-width="1.4" />
<text x="358.7" y="239.33866666666665" font-size="7.7" text-anchor="end" font-weight="normal" fill="#111" >0.2</text>
<line x1="361.7" y1="217.33333333333334" x2="364.7" y2="217.33333333333334" stroke="#111" stroke-width="1.4" />
<text x="358.7" y="220.10533333333333" font-size="7.7" text-anchor="end" font-weight="normal" fill="#111" >0.4</text>
<line x1="361.7" y1="198.1" x2="364.7" y2="198.1" stroke="#111" stroke-width="1.4" />
<text x="358.7" y="200.87199999999999" font-size="7.7" text-anchor="end" font-weight="normal" fill="#111" >0.6</text>
<line x1="364.09999999999997" y1="255.8" x2="451.40000000000003" y2="255.8" stroke="#111" stroke-width="1.4" />
<line x1="378.0" y1="255.8" x2="378.0" y2="258.40000000000003" stroke="#111" stroke-width="1.4" />
<text x="378.0" y="267.6" font-size="7.7" text-anchor="middle" font-weight="normal" fill="#111" >2.5</text>
<line x1="407.7" y1="255.8" x2="407.7" y2="258.40000000000003" stroke="#111" stroke-width="1.4" />
<text x="407.7" y="267.6" font-size="7.7" text-anchor="middle" font-weight="normal" fill="#111" >5.0</text>
<line x1="437.9" y1="255.8" x2="437.9" y2="258.40000000000003" stroke="#111" stroke-width="1.4" />
<text x="437.9" y="267.6" font-size="7.7" text-anchor="middle" font-weight="normal" fill="#111" >7.0</text>
<text transform="translate(408.6,280.1) scale(0.74,1)" font-size="8.7" text-anchor="middle" fill="#111">µg/mL contortrixobin</text>
<text transform="translate(341.9,226.95) rotate(-90) scale(0.77,1)" font-size="8.3" text-anchor="middle" fill="#111">Optical density</text>
<circle cx="477.2" cy="188.5" r="2.1" fill="#cc0014"/>
<rect x="475.3" y="200.1" width="4.1" height="4.1" fill="#0626a4"/>
<text x="482.6" y="190.9" font-size="6.8" text-anchor="start" font-weight="normal" fill="#111" >Adult</text>
<text x="482.6" y="204.6" font-size="6.8" text-anchor="start" font-weight="normal" fill="#111" >Neonates</text>
<rect x="0" y="0" width="520" height="1.25" fill="#000"/>
<rect x="0" y="0" width="1.4" height="287" fill="#000"/>
<rect x="518.5" y="0" width="1.5" height="287" fill="#000"/>
<rect x="0" y="284.6" width="520" height="2.4" fill="#000"/>
</svg></body></html>
